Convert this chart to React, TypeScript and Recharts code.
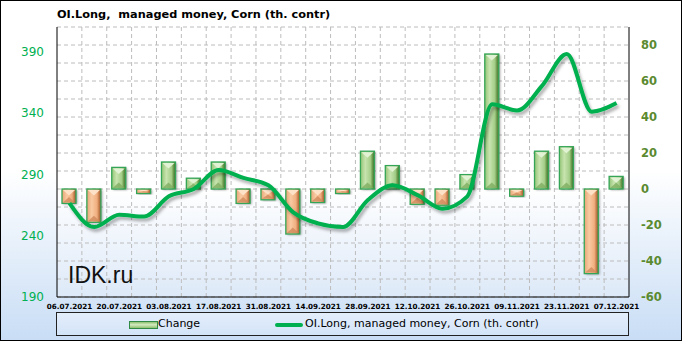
import React from 'react';
import { ComposedChart, Bar, Line, XAxis, YAxis, CartesianGrid } from 'recharts';

const dates = [
  '06.07.2021', '13.07.2021', '20.07.2021', '27.07.2021', '03.08.2021', '10.08.2021',
  '17.08.2021', '24.08.2021', '31.08.2021', '07.09.2021', '14.09.2021', '21.09.2021',
  '28.09.2021', '05.10.2021', '12.10.2021', '19.10.2021', '26.10.2021', '02.11.2021',
  '09.11.2021', '16.11.2021', '23.11.2021', '30.11.2021', '07.12.2021',
];
const changes = [-8, -18.5, 12, -2.5, 15, 6, 15, -8, -6, -25, -7.5, -2.5, 21, 13, -8.5, -9, 8, 75, -4, 21, 23.5, -47, 7];
const openInterest = [266.5, 247, 257, 255.5, 272, 278, 293.5, 287, 281, 259, 250, 247, 269, 281, 273, 262, 272, 347, 342, 362, 388, 341, 348];
const leftTicks = [190, 240, 290, 340, 390];
const rightTicks = [-60, -50, -40, -30, -20, -10, 0, 10, 20, 30, 40, 50, 60, 70, 80, 90];

const data = dates.map((date, i) => ({ date, change: changes[i], oi: openInterest[i] }));

const FONT = "'DejaVu Sans', Verdana, sans-serif";

// bar with the bevelled look: light cap on top, darker wedge at the bottom
function BevelBar(props: any) {
  const { x, y, width, height, value } = props;
  if (value == null) return null;
  const top = Math.min(y, y + height);
  const h = Math.max(Math.abs(height), 2);
  const up = value >= 0;
  const capH = Math.max(Math.min(width / 2 - 1.5, h / 2 - 1), 0);
  const bottom = top + h;
  return (
    <g>
      <rect x={x + 1.5} y={top + 1} width={width} height={h} fill="rgba(0,0,0,0.35)" filter="url(#barShadow)" />
      <rect
        x={x}
        y={top}
        width={width}
        height={h}
        fill={up ? 'url(#barGreen)' : 'url(#barOrange)'}
        stroke="#34a556"
        strokeWidth={1.3}
      />
      {capH > 0 && (
        <>
          <polygon
            points={`${x + 1},${top + 1} ${x + width - 1},${top + 1} ${x + width / 2},${top + 1 + capH}`}
            fill={up ? '#e2f2d4' : '#fde2c8'}
          />
          <polygon
            points={`${x + 1},${bottom - 1} ${x + width - 1},${bottom - 1} ${x + width / 2},${bottom - 1 - capH}`}
            fill={up ? '#7eae60' : '#cf8a5b'}
            opacity={0.8}
          />
        </>
      )}
    </g>
  );
}

export default function App() {
  const gridX = ({ offset }: any) => {
    const step = offset.width / dates.length;
    return dates.slice(1).map((_, i) => offset.left + step * (i + 1));
  };

  return (
    <div
      style={{
        position: 'absolute',
        left: 0,
        top: 0,
        width: 682,
        height: 341,
        background: 'linear-gradient(to bottom, #ffffff 0%, #ffffff 50%, #c8ddf5 100%)',
        fontFamily: FONT,
      }}
    >
      <div
        style={{
          position: 'absolute',
          left: 57,
          top: 8,
          fontSize: 11.3,
          fontWeight: 'bold',
          whiteSpace: 'pre',
          color: '#000',
        }}
      >
        {'OI.Long,  managed money, Corn (th. contr)'}
      </div>
      <ComposedChart width={682} height={341} data={data} margin={{ top: 27, right: 0, bottom: 0, left: 0 }}>
        <defs>
          <linearGradient id="plotBg" x1="0" y1="0" x2="0" y2="1">
            <stop offset="0%" stopColor="#ffffff" />
            <stop offset="60%" stopColor="#ffffff" />
            <stop offset="100%" stopColor="#dde9f8" />
          </linearGradient>
          <linearGradient id="barGreen" x1="0" y1="0" x2="1" y2="0">
            <stop offset="0%" stopColor="#94c476" />
            <stop offset="35%" stopColor="#c8e4b0" />
            <stop offset="72%" stopColor="#a3cd87" />
            <stop offset="85%" stopColor="#6f9d50" />
            <stop offset="100%" stopColor="#3f6e2c" />
          </linearGradient>
          <linearGradient id="barOrange" x1="0" y1="0" x2="1" y2="0">
            <stop offset="0%" stopColor="#e7a577" />
            <stop offset="35%" stopColor="#f9caa2" />
            <stop offset="72%" stopColor="#f0ae7f" />
            <stop offset="85%" stopColor="#c98150" />
            <stop offset="100%" stopColor="#8f5630" />
          </linearGradient>
          <filter id="lineShadow" x="-10%" y="-10%" width="120%" height="130%">
            <feDropShadow dx="2" dy="3" stdDeviation="1.5" floodColor="#000" floodOpacity="0.3" />
          </filter>
          <filter id="barShadow" x="-50%" y="-10%" width="200%" height="120%">
            <feGaussianBlur stdDeviation="1.2" />
          </filter>
        </defs>
        <CartesianGrid
          yAxisId="right"
          stroke="#bcbcbc"
          strokeDasharray="4 3"
          fill="url(#plotBg)"
          verticalCoordinatesGenerator={gridX}
        />
        <XAxis
          dataKey="date"
          interval={1}
          tickLine={false}
          axisLine={{ stroke: '#000' }}
          height={44}
          tickMargin={1}
          tick={{ fontSize: 7.2, fontWeight: 'bold', fill: '#000', fontFamily: FONT }}
        />
        <XAxis xAxisId="top" orientation="top" dataKey="date" tick={false} tickLine={false} axisLine={{ stroke: '#000' }} height={0} />
        <YAxis
          yAxisId="left"
          orientation="left"
          width={57}
          domain={[190, 410]}
          ticks={leftTicks}
          allowDataOverflow
          tickLine={false}
          axisLine={{ stroke: '#000' }}
          tickMargin={7}
          tick={{ fontSize: 12, fill: '#00b050', fontFamily: FONT }}
        />
        <YAxis
          yAxisId="right"
          orientation="right"
          width={53}
          domain={[-60, 90]}
          ticks={rightTicks}
          allowDataOverflow
          tickLine={false}
          axisLine={{ stroke: '#000' }}
          tickMargin={6}
          tickFormatter={(v: number) => (v % 20 === 0 ? String(v) : '')}
          tick={{ fontSize: 11.5, fontWeight: 'bold', fill: '#5b8a30', fontFamily: FONT }}
        />
        <Bar yAxisId="right" dataKey="change" barSize={14} shape={BevelBar} isAnimationActive={false} />
        <Line
          yAxisId="left"
          dataKey="oi"
          type="monotone"
          stroke="#00b050"
          strokeWidth={4}
          dot={false}
          activeDot={false}
          filter="url(#lineShadow)"
          isAnimationActive={false}
        />
      </ComposedChart>
      <div
        style={{
          position: 'absolute',
          left: 68,
          top: 262,
          fontSize: 23,
          fontFamily: "'Liberation Sans', Arial, sans-serif",
          color: '#111',
          lineHeight: '26px',
        }}
      >
        IDK.ru
      </div>
      <div
        style={{
          position: 'absolute',
          left: 56,
          top: 312,
          width: 573,
          height: 24,
          boxSizing: 'border-box',
          border: '1px solid #222',
          background: 'linear-gradient(to bottom, #e4eefb, #d3e4f8)',
          fontSize: 11,
          color: '#000',
        }}
      >
        <div
          style={{
            position: 'absolute',
            left: 72,
            top: 8,
            width: 27,
            height: 6,
            border: '1px solid #2f8a45',
            background: 'linear-gradient(to bottom, #8cbf6e, #d4ebc0 45%, #8cbf6e)',
          }}
        />
        <span style={{ position: 'absolute', left: 101, top: 4 }}>Change</span>
        <div
          style={{
            position: 'absolute',
            left: 218,
            top: 10,
            width: 28,
            height: 4,
            borderRadius: 2,
            background: '#00b050',
          }}
        />
        <span style={{ position: 'absolute', left: 248, top: 4, whiteSpace: 'pre' }}>
          OI.Long, managed money, Corn (th. contr)
        </span>
      </div>
      <div
        style={{
          position: 'absolute',
          left: 0,
          top: 0,
          width: 682,
          height: 341,
          boxSizing: 'border-box',
          border: '1px solid #000',
          pointerEvents: 'none',
        }}
      />
    </div>
  );
}
